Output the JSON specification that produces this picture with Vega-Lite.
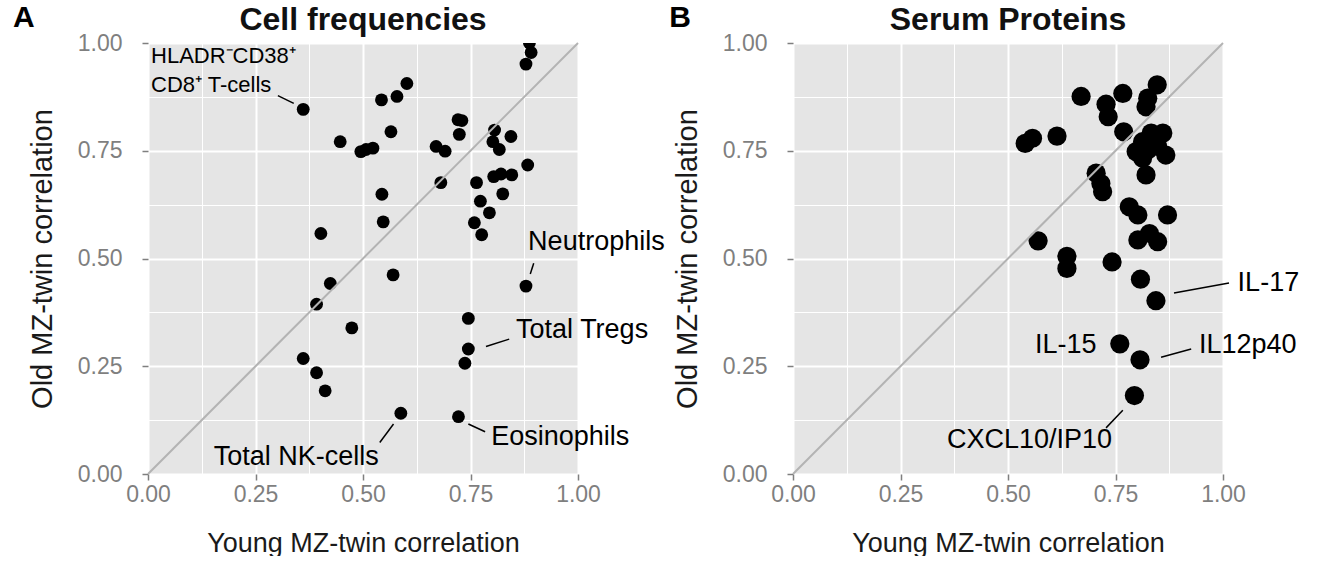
{
  "$schema": "https://vega.github.io/schema/vega-lite/v6.json",
  "padding": {"left": 12, "top": 3, "right": 0, "bottom": 0},
  "bounds": "flush",
  "spacing": 215,
  "config": {
    "font": "Liberation Sans",
    "view": {"stroke": null, "fill": "#e5e5e5"},
    "title": {"fontSize": 32, "fontWeight": "bold", "font": "Liberation Sans", "color": "#111111", "offset": -34, "anchor": "middle", "frame": "group"}
  },
  "datasets": {
    "ptsA": [
      {"x": 0.361, "y": 0.846}, {"x": 0.447, "y": 0.771}, {"x": 0.495, "y": 0.748}, {"x": 0.507, "y": 0.753},
      {"x": 0.523, "y": 0.756}, {"x": 0.565, "y": 0.794}, {"x": 0.543, "y": 0.868}, {"x": 0.579, "y": 0.876},
      {"x": 0.602, "y": 0.906}, {"x": 0.670, "y": 0.760}, {"x": 0.691, "y": 0.749}, {"x": 0.721, "y": 0.822},
      {"x": 0.730, "y": 0.820}, {"x": 0.724, "y": 0.788}, {"x": 0.806, "y": 0.798}, {"x": 0.802, "y": 0.771},
      {"x": 0.817, "y": 0.753}, {"x": 0.844, "y": 0.783}, {"x": 0.879, "y": 0.951}, {"x": 0.891, "y": 0.978},
      {"x": 0.887, "y": 1.0}, {"x": 0.883, "y": 0.717}, {"x": 0.681, "y": 0.676}, {"x": 0.764, "y": 0.676},
      {"x": 0.804, "y": 0.690}, {"x": 0.821, "y": 0.696}, {"x": 0.846, "y": 0.694}, {"x": 0.825, "y": 0.650},
      {"x": 0.773, "y": 0.633}, {"x": 0.794, "y": 0.606}, {"x": 0.759, "y": 0.583}, {"x": 0.776, "y": 0.555},
      {"x": 0.544, "y": 0.649}, {"x": 0.547, "y": 0.585}, {"x": 0.402, "y": 0.558}, {"x": 0.570, "y": 0.462},
      {"x": 0.424, "y": 0.442}, {"x": 0.392, "y": 0.394}, {"x": 0.474, "y": 0.339}, {"x": 0.361, "y": 0.268},
      {"x": 0.392, "y": 0.235}, {"x": 0.412, "y": 0.193}, {"x": 0.879, "y": 0.436}, {"x": 0.745, "y": 0.361},
      {"x": 0.745, "y": 0.290}, {"x": 0.737, "y": 0.257}, {"x": 0.588, "y": 0.141}, {"x": 0.722, "y": 0.133}
    ],
    "ptsB": [
      {"x": 0.670, "y": 0.876}, {"x": 0.767, "y": 0.883}, {"x": 0.728, "y": 0.858}, {"x": 0.733, "y": 0.829},
      {"x": 0.769, "y": 0.794}, {"x": 0.847, "y": 0.903}, {"x": 0.825, "y": 0.872}, {"x": 0.821, "y": 0.852},
      {"x": 0.860, "y": 0.791}, {"x": 0.833, "y": 0.791}, {"x": 0.813, "y": 0.771}, {"x": 0.798, "y": 0.748},
      {"x": 0.825, "y": 0.752}, {"x": 0.867, "y": 0.740}, {"x": 0.848, "y": 0.760}, {"x": 0.813, "y": 0.733},
      {"x": 0.821, "y": 0.694}, {"x": 0.705, "y": 0.698}, {"x": 0.716, "y": 0.674}, {"x": 0.720, "y": 0.655},
      {"x": 0.540, "y": 0.767}, {"x": 0.557, "y": 0.779}, {"x": 0.614, "y": 0.784}, {"x": 0.782, "y": 0.620},
      {"x": 0.802, "y": 0.601}, {"x": 0.871, "y": 0.601}, {"x": 0.802, "y": 0.543}, {"x": 0.829, "y": 0.558},
      {"x": 0.848, "y": 0.539}, {"x": 0.570, "y": 0.541}, {"x": 0.637, "y": 0.505}, {"x": 0.637, "y": 0.477},
      {"x": 0.742, "y": 0.492}, {"x": 0.808, "y": 0.452}, {"x": 0.844, "y": 0.402}, {"x": 0.760, "y": 0.302},
      {"x": 0.807, "y": 0.265}, {"x": 0.794, "y": 0.182}
    ],
    "diag": [{"x": 0, "y": 0, "x2": 1, "y2": 1}],
    "segA": [
      {"x": 0.302, "y": 0.878, "x2": 0.339, "y2": 0.860},
      {"x": 0.897, "y": 0.489, "x2": 0.889, "y2": 0.464},
      {"x": 0.786, "y": 0.296, "x2": 0.840, "y2": 0.313},
      {"x": 0.745, "y": 0.116, "x2": 0.784, "y2": 0.098},
      {"x": 0.539, "y": 0.073, "x2": 0.571, "y2": 0.116}
    ],
    "labA": [
      {"x": 0.884, "y": 0.538, "label": "Neutrophils"},
      {"x": 0.856, "y": 0.334, "label": "Total Tregs"},
      {"x": 0.798, "y": 0.087, "label": "Eosinophils"},
      {"x": 0.153, "y": 0.040, "label": "Total NK-cells"}
    ],
    "labA2": [
      {"x": 0.007, "y": 0.969, "label": "HLADR⁻CD38⁺"},
      {"x": 0.007, "y": 0.903, "label": "CD8⁺ T-cells"}
    ],
    "segB": [
      {"x": 0.886, "y": 0.420, "x2": 1.014, "y2": 0.443},
      {"x": 0.856, "y": 0.271, "x2": 0.926, "y2": 0.290},
      {"x": 0.728, "y": 0.107, "x2": 0.767, "y2": 0.148}
    ],
    "labB": [
      {"x": 1.034, "y": 0.443, "label": "IL-17"},
      {"x": 0.563, "y": 0.299, "label": "IL-15"},
      {"x": 0.944, "y": 0.299, "label": "IL12p40"},
      {"x": 0.358, "y": 0.079, "label": "CXCL10/IP10"}
    ],
    "letterA": [{"x": -0.314, "y": 1.058, "label": "A"}],
    "letterB": [{"x": -0.288, "y": 1.058, "label": "B"}]
  },
  "hconcat": [
    {
      "width": 430,
      "height": 431,
      "title": {"text": "Cell frequencies"},
      "encoding": {
        "x": {
          "field": "x", "type": "quantitative",
          "scale": {"domain": [0, 1], "nice": false, "zero": false},
          "axis": {
            "title": "Young MZ-twin correlation",
            "values": [0, 0.125, 0.25, 0.375, 0.5, 0.625, 0.75, 0.875, 1],
            "labelExpr": "abs(datum.value*4 - round(datum.value*4)) > 0.01 ? '' : format(datum.value, '.2f')",
            "domain": false, "gridColor": "#ffffff",
            "gridWidth": {"condition": {"test": "abs(datum.value*4 - round(datum.value*4)) > 0.01", "value": 1}, "value": 2},
            "tickOpacity": {"condition": {"test": "abs(datum.value*4 - round(datum.value*4)) > 0.01", "value": 0}, "value": 1},
            "tickColor": "#7f7f7f", "tickSize": 6, "tickWidth": 1.5,
            "labelFontSize": 23, "labelColor": "#7f7f7f", "labelPadding": 3, "labelFlush": false, "labelOverlap": false,
            "titleFontSize": 27, "titleFontWeight": "normal", "titleColor": "#1a1a1a", "titlePadding": 24
          }
        },
        "y": {
          "field": "y", "type": "quantitative",
          "scale": {"domain": [0, 1], "nice": false, "zero": false},
          "axis": {
            "title": "Old MZ-twin correlation",
            "values": [0, 0.125, 0.25, 0.375, 0.5, 0.625, 0.75, 0.875, 1],
            "labelExpr": "abs(datum.value*4 - round(datum.value*4)) > 0.01 ? '' : format(datum.value, '.2f')",
            "domain": false, "gridColor": "#ffffff",
            "gridWidth": {"condition": {"test": "abs(datum.value*4 - round(datum.value*4)) > 0.01", "value": 1}, "value": 2},
            "tickOpacity": {"condition": {"test": "abs(datum.value*4 - round(datum.value*4)) > 0.01", "value": 0}, "value": 1},
            "tickColor": "#7f7f7f", "tickSize": 6, "tickWidth": 1.5,
            "labelFontSize": 23, "labelColor": "#7f7f7f", "labelPadding": 20, "labelFlush": false, "labelOverlap": false,
            "titleFontSize": 29, "titleFontWeight": "normal", "titleColor": "#1a1a1a", "titlePadding": 20
          }
        }
      },
      "layer": [
        {"data": {"name": "ptsA"}, "mark": {"type": "circle", "size": 165, "color": "#000000", "opacity": 1, "clip": true}},
        {"data": {"name": "diag"}, "mark": {"type": "rule", "color": "#b3b3b3", "strokeWidth": 2}, "encoding": {"x2": {"field": "x2"}, "y2": {"field": "y2"}}},
        {"data": {"name": "segA"}, "mark": {"type": "rule", "color": "#000000", "strokeWidth": 1.5}, "encoding": {"x2": {"field": "x2"}, "y2": {"field": "y2"}}},
        {"data": {"name": "labA"}, "mark": {"type": "text", "align": "left", "baseline": "middle", "fontSize": 27, "color": "#000000"}, "encoding": {"text": {"field": "label"}}},
        {"data": {"name": "labA2"}, "mark": {"type": "text", "align": "left", "baseline": "middle", "fontSize": 22, "color": "#000000"}, "encoding": {"text": {"field": "label"}}},
        {"data": {"name": "letterA"}, "mark": {"type": "text", "align": "left", "baseline": "middle", "fontSize": 30, "fontWeight": "bold", "color": "#000000"}, "encoding": {"text": {"field": "label"}}}
      ]
    },
    {
      "width": 430,
      "height": 431,
      "title": {"text": "Serum Proteins"},
      "encoding": {
        "x": {
          "field": "x", "type": "quantitative",
          "scale": {"domain": [0, 1], "nice": false, "zero": false},
          "axis": {
            "title": "Young MZ-twin correlation",
            "values": [0, 0.125, 0.25, 0.375, 0.5, 0.625, 0.75, 0.875, 1],
            "labelExpr": "abs(datum.value*4 - round(datum.value*4)) > 0.01 ? '' : format(datum.value, '.2f')",
            "domain": false, "gridColor": "#ffffff",
            "gridWidth": {"condition": {"test": "abs(datum.value*4 - round(datum.value*4)) > 0.01", "value": 1}, "value": 2},
            "tickOpacity": {"condition": {"test": "abs(datum.value*4 - round(datum.value*4)) > 0.01", "value": 0}, "value": 1},
            "tickColor": "#7f7f7f", "tickSize": 6, "tickWidth": 1.5,
            "labelFontSize": 23, "labelColor": "#7f7f7f", "labelPadding": 3, "labelFlush": false, "labelOverlap": false,
            "titleFontSize": 27, "titleFontWeight": "normal", "titleColor": "#1a1a1a", "titlePadding": 24
          }
        },
        "y": {
          "field": "y", "type": "quantitative",
          "scale": {"domain": [0, 1], "nice": false, "zero": false},
          "axis": {
            "title": "Old MZ-twin correlation",
            "values": [0, 0.125, 0.25, 0.375, 0.5, 0.625, 0.75, 0.875, 1],
            "labelExpr": "abs(datum.value*4 - round(datum.value*4)) > 0.01 ? '' : format(datum.value, '.2f')",
            "domain": false, "gridColor": "#ffffff",
            "gridWidth": {"condition": {"test": "abs(datum.value*4 - round(datum.value*4)) > 0.01", "value": 1}, "value": 2},
            "tickOpacity": {"condition": {"test": "abs(datum.value*4 - round(datum.value*4)) > 0.01", "value": 0}, "value": 1},
            "tickColor": "#7f7f7f", "tickSize": 6, "tickWidth": 1.5,
            "labelFontSize": 23, "labelColor": "#7f7f7f", "labelPadding": 20, "labelFlush": false, "labelOverlap": false,
            "titleFontSize": 29, "titleFontWeight": "normal", "titleColor": "#1a1a1a", "titlePadding": 20
          }
        }
      },
      "layer": [
        {"data": {"name": "ptsB"}, "mark": {"type": "circle", "size": 370, "color": "#000000", "opacity": 1, "clip": true}},
        {"data": {"name": "diag"}, "mark": {"type": "rule", "color": "#b3b3b3", "strokeWidth": 2}, "encoding": {"x2": {"field": "x2"}, "y2": {"field": "y2"}}},
        {"data": {"name": "segB"}, "mark": {"type": "rule", "color": "#000000", "strokeWidth": 1.5}, "encoding": {"x2": {"field": "x2"}, "y2": {"field": "y2"}}},
        {"data": {"name": "labB"}, "mark": {"type": "text", "align": "left", "baseline": "middle", "fontSize": 27, "color": "#000000"}, "encoding": {"text": {"field": "label"}}},
        {"data": {"name": "letterB"}, "mark": {"type": "text", "align": "left", "baseline": "middle", "fontSize": 30, "fontWeight": "bold", "color": "#000000"}, "encoding": {"text": {"field": "label"}}}
      ]
    }
  ]
}
